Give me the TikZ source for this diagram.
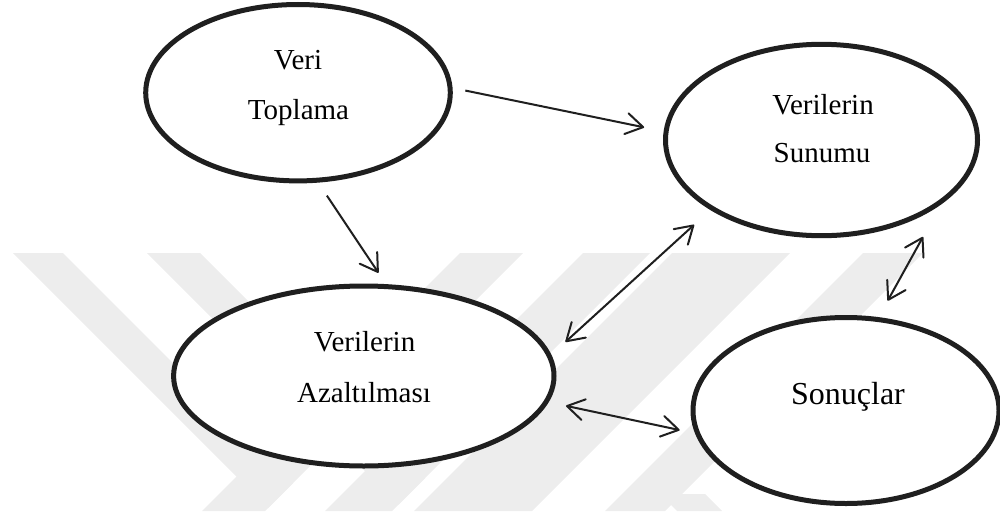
\documentclass[tikz,border=0pt]{standalone}
\usepackage{fontspec}
\setmainfont{Liberation Serif}
\usetikzlibrary{shapes.geometric,arrows.meta}

\begin{document}
\begin{tikzpicture}[x=1pt,y=-1pt,
  stage/.style={ellipse, draw=black!88, line width=5pt, fill=white,
                inner sep=0pt, outer sep=0pt},
  lbl/.style={inner sep=0pt, anchor=base, text=black,
              font=\fontsize{29}{29}\selectfont},
  biglbl/.style={lbl, font=\fontsize{32}{32}\selectfont},
  barb/.tip={Straight Barb[length=17pt,width=21pt,round]},
  link/.style={draw=black!88, line width=2pt, -barb},
  twoway/.style={link, barb-barb},
  wm/.style={fill=black!7, draw=none}]

\useasboundingbox (0,0) rectangle (1000,511);

% faint background emblem
\fill[wm] (13,253) -- (63,253) -- (293,483) -- (268,508) -- cycle;
\fill[wm] (460,253) -- (523,253) -- (265,511) -- (202,511) -- cycle;
\fill[wm] (147,253) -- (200,253) -- (425,478) -- (398.5,504.5) -- cycle;
\fill[wm] (583,253) -- (650,253) -- (392,511) -- (325,511) -- cycle;
\fill[wm] (672,253) -- (790,253) -- (532,511) -- (414,511) -- cycle;
\fill[wm] (863,253) -- (923,253) -- (665,511) -- (605,511) -- cycle;
\fill[wm] (660,494) -- (705,494) -- (722,511) -- (677,511) -- cycle;

% stages
\node[stage, minimum width=304.6pt, minimum height=176.4pt] (vt) at (298,92.7) {};
\node[stage, minimum width=312pt, minimum height=191.4pt] (vs) at (821.5,140) {};
\node[stage, minimum width=380.4pt, minimum height=180pt] (az) at (363.8,376) {};
\node[stage, minimum width=306pt, minimum height=186pt] (so) at (846,410.5) {};

% labels
\node[lbl] (vt1) at (298,69.3) {Veri};
\node[lbl] (vt2) at (298.5,119.3) {Toplama};
\node[lbl] (vs1) at (823,114) {Verilerin};
\node[lbl] (vs2) at (822,162.7) {Sunumu};
\node[lbl] (az1) at (364.5,351.7) {Verilerin};
\node[lbl] (az2) at (364,402.5) {Azaltılması};
\node[biglbl] (so1) at (848,404.3) {Sonuçlar};

% connectors
\draw[link, shorten <=15.6pt, shorten >=22.4pt] (vt.2.6) -- (vs.177.9);
\draw[link, shorten <=18.5pt, shorten >=16.7pt] (vt.-78.1) -- (az.75.5);
\draw[twoway, shorten <=21.6pt, shorten >=24.5pt] (az.6.3) -- (vs.-148.4);
\draw[twoway, shorten <=42.6pt, shorten >=21.4pt] (vs.-26) -- (so.71.7);
\draw[twoway, shorten <=20.3pt, shorten >=18.7pt] (az.-8.5) -- (so.189.3);
\end{tikzpicture}
\end{document}
